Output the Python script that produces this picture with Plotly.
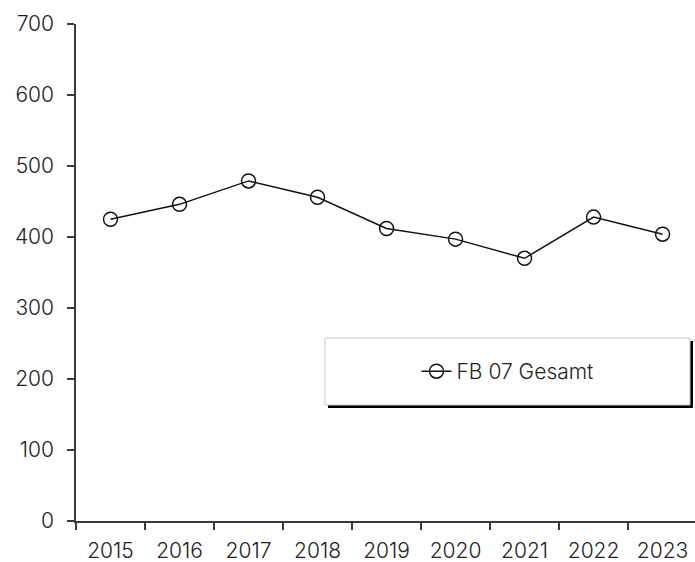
import plotly.graph_objects as go

# Jahre und Werte der Reihe "FB 07 Gesamt"
years = ["2015", "2016", "2017", "2018", "2019", "2020", "2021", "2022", "2023"]
values = [425, 446, 479, 456, 412, 397, 370, 428, 404]
series_name = "FB 07 Gesamt"
y_ticks = [0, 100, 200, 300, 400, 500, 600, 700]

W, H = 695, 562
L, R, T, B = 76, 0, 24, 41
pw, ph = W - L - R, H - T - B


def px_x(x):
    return (x - L) / pw


def px_y(y):
    return (H - B - y) / ph


text_color = "#222222"
axis_color = "#3a3a3a"
font_family = "Inter, Lato, sans-serif"
base_font = dict(family=font_family, size=21, color=text_color, weight=300)

fig = go.Figure()
fig.add_trace(go.Scatter(
    x=years, y=values, name=series_name, mode="lines+markers",
    line=dict(color="#111111", width=1.5),
    marker=dict(symbol="circle-open", size=14, color="#111111",
                line=dict(width=1.5, color="#111111")),
    showlegend=True,
))

# Legendenkasten mit Schlagschatten
box = (325, 338, 690, 405)
off = 3
fig.add_shape(type="rect", xref="paper", yref="paper",
              x0=px_x(box[0] + off), x1=px_x(box[2] + off),
              y0=px_y(box[1] + off), y1=px_y(box[3] + off),
              fillcolor="#000000", line=dict(width=0), layer="above")
fig.add_shape(type="rect", xref="paper", yref="paper",
              x0=px_x(box[0]), x1=px_x(box[2]),
              y0=px_y(box[1]), y1=px_y(box[3]),
              fillcolor="#ffffff", line=dict(width=1, color="#c8c8c8"), layer="above")

fig.update_layout(
    width=W, height=H,
    margin=dict(l=L, r=R, t=T, b=B, pad=0),
    paper_bgcolor="white", plot_bgcolor="white",
    font=base_font,
    legend=dict(
        x=px_x((box[0] + box[2]) / 2), y=px_y((box[1] + box[3]) / 2),
        xanchor="center", yanchor="middle",
        bgcolor="rgba(0,0,0,0)", borderwidth=0,
        font=base_font,
        itemwidth=30,
    ),
    xaxis=dict(
        type="category", range=[-0.5, 8.47],
        showgrid=False, zeroline=False,
        showline=True, linecolor=axis_color, linewidth=1.5,
        ticks="outside", tickson="boundaries", ticklen=7, tickwidth=1.5,
        tickcolor=axis_color, ticklabelstandoff=10,
        tickfont=base_font,
    ),
    yaxis=dict(
        range=[0, 700], tickvals=y_ticks,
        showgrid=False, zeroline=False,
        showline=True, linecolor=axis_color, linewidth=1.5,
        ticks="outside", ticklen=7, tickwidth=1.5, tickcolor=axis_color,
        ticklabelstandoff=9,
        tickfont=base_font,
    ),
)

fig.write_html("out.html")
